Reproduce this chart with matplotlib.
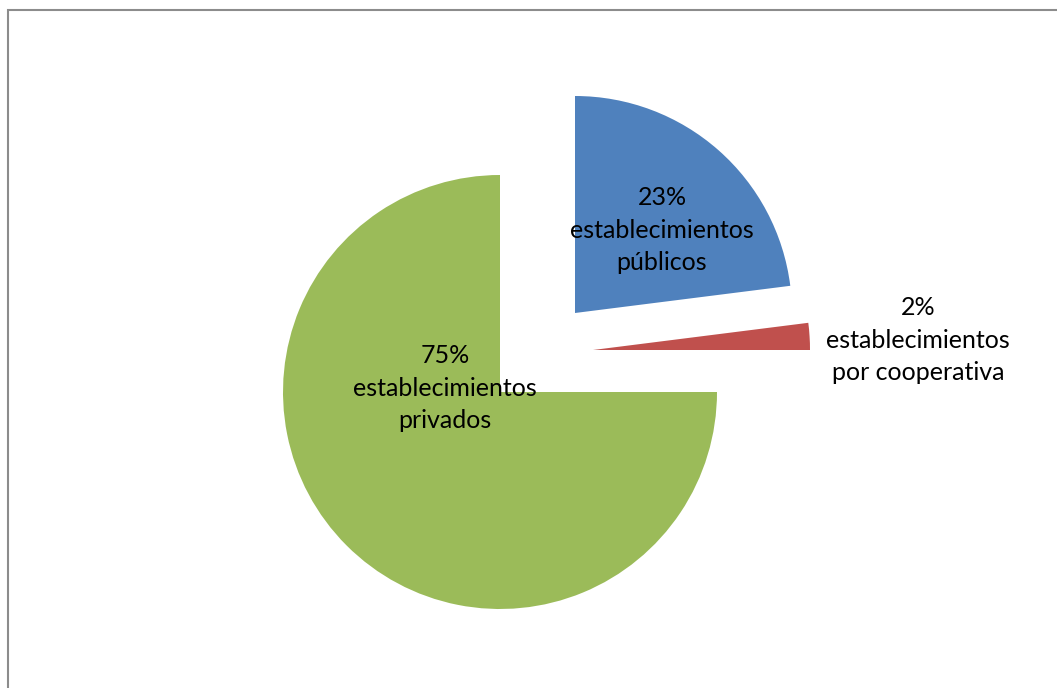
import matplotlib
matplotlib.use("Agg")
from matplotlib import pyplot as plt
from matplotlib.patches import Rectangle

# datos del gráfico
categorias = ["establecimientos\npúblicos", "establecimientos\npor cooperativa", "establecimientos\nprivados"]
porcentajes = [23, 2, 75]
colores = ["#4F81BD", "#C0504D", "#9BBB59"]

# desplazamiento de cada porción (pixeles, eje y hacia arriba)
desplaz = [(75, 79), (93, 42), (0, 0)]
# posición de las etiquetas
pos_etiq = [(662, 458), (918, 348), (445, 300)]

W, H = 1057, 688
fig = plt.figure(figsize=(W / 100, H / 100), dpi=100)
ax = fig.add_axes([0, 0, 1, 1])

cx, cy, r = 500, H - 392, 217
wedges, _ = ax.pie(porcentajes, colors=colores, startangle=90, counterclock=False,
                   center=(cx, cy), radius=r, frame=True,
                   wedgeprops=dict(linewidth=0))

for w, (dx, dy) in zip(wedges, desplaz):
    w.set_center((cx + dx, cy + dy))

for cat, p, (x, y) in zip(categorias, porcentajes, pos_etiq):
    ax.text(x, y, f"{p}%\n{cat}", ha="center", va="center", fontsize=18,
            family="Lato", linespacing=1.5, color="black")

ax.set_xlim(0, W)
ax.set_ylim(0, H)
ax.set_aspect("equal")
ax.axis("off")

# borde del área del gráfico
fig.patches.append(Rectangle((8 / W, -0.1), 1.2, 1 - 10 / H + 0.1, transform=fig.transFigure,
                             fill=False, edgecolor="#8c8c8c", linewidth=1.5))

fig.savefig("out.png", dpi=100)
